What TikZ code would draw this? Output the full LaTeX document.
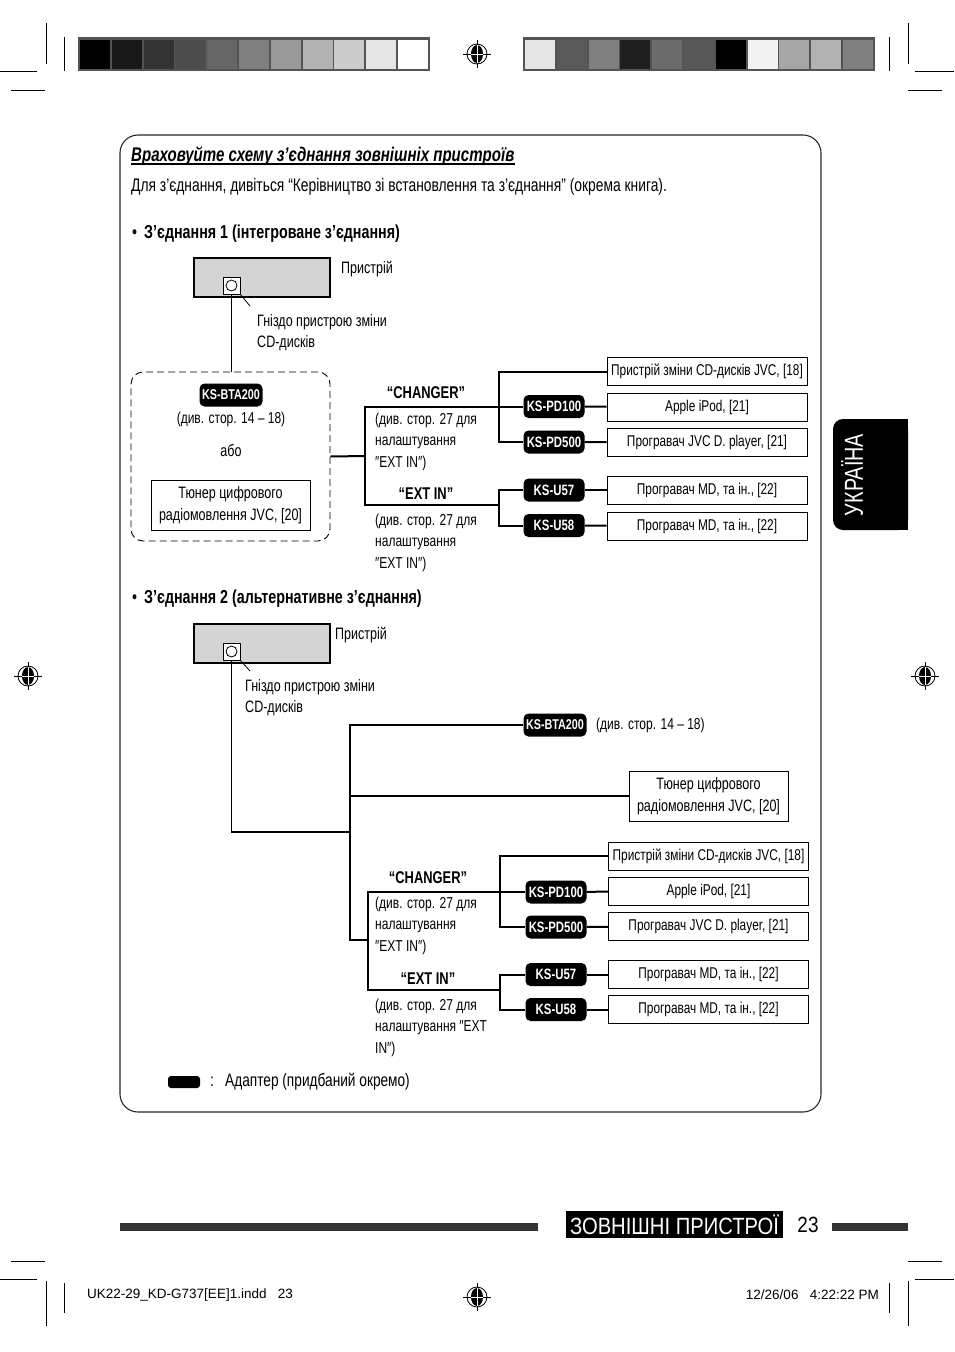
\documentclass[tikz,border=0pt]{standalone}
\usepackage{fontspec}
\setmainfont[FakeStretch=0.76]{Liberation Sans}
\newfontfamily\footfont{Liberation Sans}
\newfontfamily\barfont[FakeStretch=0.86]{Liberation Sans}
\usetikzlibrary{positioning,calc}
\definecolor{devgray}{gray}{0.83}
\definecolor{framegray}{gray}{0.33}
\tikzset{
  txt/.style={inner sep=0pt,font=\fontsize{16.5}{21.5}\selectfont,align=left},
  note/.style={txt,font=\fontsize{15.8}{21.5}\selectfont},
  hdr/.style={inner sep=0pt,font=\bfseries\fontsize{17}{20}\selectfont},
  adapter/.style={rectangle,rounded corners=5pt,fill=black,text=white,inner sep=0pt,
    minimum width=61pt,minimum height=23pt,font=\bfseries\fontsize{15}{16}\selectfont},
  unit/.style={rectangle,draw,line width=0.8pt,fill=white,inner sep=0pt,align=center,
    minimum width=200pt,minimum height=28pt,font=\fontsize{15.6}{22}\selectfont},
  devbody/.style={rectangle,draw,line width=1.8pt,fill=devgray,inner sep=0pt,
    minimum width=136pt,minimum height=39pt},
  jack/.style={rectangle,draw,line width=0.8pt,fill=white,inner sep=0pt,minimum size=17pt},
  wire/.style={line width=2pt},
  thinwire/.style={line width=1.3pt},
  cropline/.style={line width=1pt},
}
\begin{document}
\begin{tikzpicture}[x=1pt,y=-1pt]
\useasboundingbox (0,0) rectangle (954,1352);

% crop marks
\draw[cropline] (46,23) -- (46,64) (64,37) -- (64,71) (0,71) -- (37,71) (11,90) -- (45,90);
\draw[cropline] (908,23) -- (908,64) (889,37) -- (889,71) (915,71) -- (954,71) (908,90) -- (942,90);
\draw[cropline] (11,1261) -- (45,1261) (0,1279) -- (37,1279) (46,1281) -- (46,1326) (64,1283) -- (64,1313);
\draw[cropline] (908,1261) -- (942,1261) (915,1279) -- (954,1279) (908,1281) -- (908,1326) (889,1283) -- (889,1313);

% colour bars
\fill[framegray] (78,37) rectangle (430,71);
\foreach \g [count=\i from 0] in {100,90,80,70,60,50,40,30,20,10,0}
  \fill[black!\g] (80+\i*31.8,39.5) rectangle ++(30,29);
\fill[framegray] (523,37) rectangle (875,71);
\foreach \g [count=\i from 0] in {10,65,50,88,58,66,100,5,35,30,50}
  \fill[black!\g] (525+\i*31.8,39.5) rectangle ++(30,29);

% registration marks
\foreach \mx/\my in {477/54,477/1297,28/676,925/676}{
  \begin{scope}[shift={(\mx,\my)}]
    \draw[line width=0.7pt] (-14,0) -- (14,0) (0,-14) -- (0,14);
    \draw[line width=0.8pt] (0,0) circle[radius=10pt];
    \fill (0,0) ellipse[x radius=6pt,y radius=9pt];
    \draw[white,line width=0.7pt] (-6,0) -- (6,0) (0,-9) -- (0,9);
  \end{scope}
}

% page frame
\draw[line width=1.1pt,black!85,rounded corners=18pt] (120,135) rectangle (821,1112);

% heading
\node[inner sep=0pt,anchor=base west,font=\bfseries\itshape\fontsize{19.8}{22}\selectfont] (title) at (131,161) {Враховуйте схему з’єднання зовнішніх пристроїв};
\draw[line width=1.2pt] ([yshift=-3pt]title.base west) -- ([yshift=-3pt]title.base east);
\node[txt,anchor=base west,font=\fontsize{18.2}{21.5}\selectfont] (intro) at (131,191) {Для з’єднання, дивіться “Керівництво зі встановлення та з’єднання” (окрема книга).};

% ---------- connection 1
\node[hdr,anchor=base west,font=\bfseries\fontsize{18.8}{20}\selectfont] (sec1) at (132,238) {{\mdseries•}\hspace{7pt}З’єднання 1 (інтегроване з’єднання)};

\node[devbody] (dev1) at (262,277.5) {};
\node[jack] (jack1) at (231.5,285.5) {};
\draw[line width=0.8pt] (jack1.center) circle[radius=5.5pt];
\coordinate (tip1) at (250,306);
\draw[line width=0.8pt] (jack1.south east) -- (tip1);
\node[txt,anchor=base west] (dev1lbl) at (341,273) {Пристрій};
\node[txt,anchor=north west] (jack1lbl) at (257,314) {Гніздо пристрою зміни\\CD-дисків};

\node[draw,line width=0.9pt,dash pattern=on 7pt off 4pt,rounded corners=12pt,
  minimum width=199pt,minimum height=169pt] (grp1) at (230.5,456.5) {};
\node[adapter,minimum width=63pt,font=\bfseries\fontsize{14.2}{15}\selectfont] (bta1) at (231,395) {KS-BTA200};
\node[note] (bta1lbl) at (231,419) {(див. стор. 14 – 18)};
\node[txt] (or1) at (231,451) {або};
\node[unit,minimum width=159pt,minimum height=50pt,font=\fontsize{16.5}{22}\selectfont] (tuner1) at (230.5,505) {Тюнер цифрового\\радіомовлення JVC, [20]};
\draw[thinwire] (jack1.south) -- (jack1.south |- grp1.north);

\node[hdr] (chg1lbl) at (426,393) {“CHANGER”};
\node[note,anchor=north west] (chg1note) at (375,412.5) {(див. стор. 27 для\\налаштування\\″EXT IN″)};
\node[hdr] (ext1lbl) at (426,494) {“EXT IN”};
\node[note,anchor=north west] (ext1note) at (375,513.5) {(див. стор. 27 для\\налаштування\\″EXT IN″)};

\node[unit] (cd1) at (707,371.5) {Пристрій зміни CD-дисків JVC, [18]};
\node[unit] (ipod1) at (707,407) {Apple iPod, [21]};
\node[unit] (dpl1) at (707,442.5) {Програвач JVC D. player, [21]};
\node[unit] (md1a) at (707,490) {Програвач MD, та ін., [22]};
\node[unit] (md1b) at (707,526) {Програвач MD, та ін., [22]};
\node[adapter] (pd100a) at (554,406.5) {KS-PD100};
\node[adapter] (pd500a) at (554,442) {KS-PD500};
\node[adapter] (u57a) at (554,490) {KS-U57};
\node[adapter] (u58a) at (554,525.5) {KS-U58};

\coordinate (split1) at (365,456);
\coordinate (bus1) at (499,406.5);
\coordinate (ext1) at (499,505);
\draw[wire] (grp1.east) -- (split1);
\draw[wire] (pd100a.west) -| (split1) |- (ext1);
\draw[wire] (cd1.west) -| (bus1) |- (pd500a.west);
\draw[wire] (u57a.west) -| (ext1) |- (u58a.west);
\draw[wire] (pd100a) -- (ipod1);
\draw[wire] (pd500a) -- (dpl1);
\draw[wire] (u57a) -- (md1a);
\draw[wire] (u58a) -- (md1b);

% ---------- connection 2
\node[hdr,anchor=base west,font=\bfseries\fontsize{18.8}{20}\selectfont] (sec2) at (132,603) {{\mdseries•}\hspace{7pt}З’єднання 2 (альтернативне з’єднання)};

\node[devbody] (dev2) at (262,643.5) {};
\node[jack] (jack2) at (231.5,651.5) {};
\draw[line width=0.8pt] (jack2.center) circle[radius=5.5pt];
\coordinate (tip2) at (250,671);
\draw[line width=0.8pt] (jack2.south east) -- (tip2);
\node[txt,anchor=base west] (dev2lbl) at (335,639) {Пристрій};
\node[txt,anchor=north west] (jack2lbl) at (245,679) {Гніздо пристрою зміни\\CD-дисків};

\node[adapter,minimum width=63pt,font=\bfseries\fontsize{14.2}{15}\selectfont] (bta2) at (555,725) {KS-BTA200};
\node[note,anchor=west] (bta2lbl) at (596,725) {(див. стор. 14 – 18)};
\node[unit,minimum width=159pt,minimum height=50pt,font=\fontsize{16.5}{22}\selectfont] (tuner2) at (708.5,796) {Тюнер цифрового\\радіомовлення JVC, [20]};

\coordinate (hub2) at (350,940);
\coordinate (split2) at (368,940);
\coordinate (join2) at (350,832);
\draw[thinwire] (jack2.south) |- (join2);
\draw[wire] (bta2.west) -| (hub2) -- (split2);
\draw[wire] (tuner2.west) -- (tuner2.west -| hub2);

\node[hdr] (chg2lbl) at (428,878) {“CHANGER”};
\node[note,anchor=north west] (chg2note) at (375,896.5) {(див. стор. 27 для\\налаштування\\″EXT IN″)};
\node[hdr] (ext2lbl) at (428,979) {“EXT IN”};
\node[note,anchor=north west] (ext2note) at (375,998.5) {(див. стор. 27 для\\налаштування ″EXT\\IN″)};

\node[unit] (cd2) at (708.5,856) {Пристрій зміни CD-дисків JVC, [18]};
\node[unit] (ipod2) at (708.5,891) {Apple iPod, [21]};
\node[unit] (dpl2) at (708.5,926.5) {Програвач JVC D. player, [21]};
\node[unit] (md2a) at (708.5,974.5) {Програвач MD, та ін., [22]};
\node[unit] (md2b) at (708.5,1009.5) {Програвач MD, та ін., [22]};
\node[adapter] (pd100b) at (556,892) {KS-PD100};
\node[adapter] (pd500b) at (556,927) {KS-PD500};
\node[adapter] (u57b) at (556,974.5) {KS-U57};
\node[adapter] (u58b) at (556,1009.5) {KS-U58};

\coordinate (bus2) at (500,892);
\coordinate (ext2) at (500,990);
\draw[wire] (pd100b.west) -| (split2) |- (ext2);
\draw[wire] (cd2.west) -| (bus2) |- (pd500b.west);
\draw[wire] (u57b.west) -| (ext2) |- (u58b.west);
\draw[wire] (pd100b) -- (ipod2);
\draw[wire] (pd500b) -- (dpl2);
\draw[wire] (u57b) -- (md2a);
\draw[wire] (u58b) -- (md2b);

% legend
\node[adapter,minimum width=32pt,minimum height=12pt,rounded corners=3pt] (legendkey) at (184,1082) {};
\node[txt,font=\fontsize{18}{20}\selectfont] (legendcolon) at (212,1082) {:};
\node[txt,anchor=west,font=\fontsize{18}{20}\selectfont] (legendlbl) at (225,1082) {Адаптер (придбаний окремо)};

% side tab
\node[fill=black,rounded corners=10pt,minimum width=75pt,minimum height=111pt,inner sep=0pt] (tabbox) at (870.5,474.5) {};
\fill (880,419) rectangle (908,530);
\node[rotate=90,text=white,inner sep=0pt,font=\fontsize{26}{26}\selectfont] (tab) at (852,475) {УКРАЇНА};

% footer
\fill[black!80] (120,1223) rectangle (538,1231);
\node[fill=black,text=white,inner sep=0pt,minimum width=217pt,minimum height=27pt,
  font=\barfont\fontsize{23.5}{24}\selectfont] (section) at (674.5,1224.5) {ЗОВНІШНІ ПРИСТРОЇ};
\node[inner sep=0pt,font=\barfont\fontsize{22}{22}\selectfont] (pagenum) at (808,1224.5) {23};
\fill[black!80] (832,1223) rectangle (908,1231);
\node[inner sep=0pt,anchor=west,font=\footfont\fontsize{13.5}{15}\selectfont] (slug) at (87,1295) {UK22-29\_KD-G737[EE]1.indd\ \ \ 23};
\node[inner sep=0pt,anchor=east,font=\footfont\fontsize{13.5}{15}\selectfont] (stamp) at (879,1295) {12/26/06\ \ \ 4:22:22 PM};
\end{tikzpicture}
\end{document}
